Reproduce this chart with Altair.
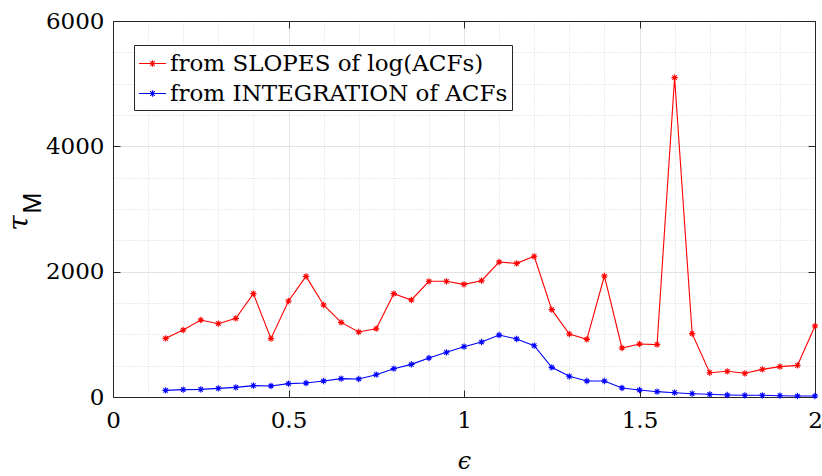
import altair as alt
import pandas as pd

# ---------------- data ----------------
eps = [0.15, 0.20, 0.25, 0.30, 0.35, 0.40, 0.45, 0.50, 0.55, 0.60,
       0.65, 0.70, 0.75, 0.80, 0.85, 0.90, 0.95, 1.00, 1.05, 1.10,
       1.15, 1.20, 1.25, 1.30, 1.35, 1.40, 1.45, 1.50, 1.55, 1.60,
       1.65, 1.70, 1.75, 1.80, 1.85, 1.90, 1.95, 2.00]
tau_slopes = [936, 1069, 1229, 1170, 1255, 1649, 931, 1532, 1925, 1468,
              1191, 1037, 1090, 1649, 1548, 1846, 1846, 1798, 1856, 2154,
              2133, 2245, 1394, 1005, 920, 1931, 782, 846, 835, 5096,
              1011, 388, 410, 378, 441, 484, 505, 1133]
tau_integration = [106, 117, 122, 138, 154, 181, 176, 213, 223, 255,
                   293, 287, 356, 452, 521, 622, 713, 803, 878, 989,
                   926, 819, 473, 330, 255, 255, 144, 112, 85, 69,
                   53, 43, 32, 27, 27, 21, 16, 16]
series_names = ["from SLOPES of log(ACFs)", "from INTEGRATION of ACFs"]
series_colors = ["#ff0000", "#0000ff"]
x_ticks = [0, 0.5, 1, 1.5, 2]
y_ticks = [0, 2000, 4000, 6000]
x_minor = [0.1, 0.2, 0.3, 0.4, 0.6, 0.7, 0.8, 0.9, 1.1, 1.2, 1.3, 1.4,
           1.6, 1.7, 1.8, 1.9]
y_minor = [500, 1000, 1500, 2500, 3000, 3500, 4500, 5000, 5500]
x_title = "ϵ"
y_title_main = "τ"
y_title_sub = "M"

n = len(eps)
df = pd.DataFrame({
    "eps": eps + eps,
    "tau": tau_slopes + tau_integration,
    "series": [series_names[0]] * n + [series_names[1]] * n,
})

# ---------------- layout ----------------
W, H = 702, 376
AX = "#262626"
FONT = "DejaVu Serif"
STAR = "M-1,0L1,0M0,-1L0,1M-0.7,-0.7L0.7,0.7M-0.7,0.7L0.7,-0.7"
LEG_SYM = ("M-1,0L1,0M-0.24,0L0.24,0M0,-0.24L0,0.24"
           "M-0.17,-0.17L0.17,0.17M-0.17,0.17L0.17,-0.17")

xs = alt.Scale(domain=[0, 2], nice=False, zero=False)
ys = alt.Scale(domain=[0, 6000], nice=False)
cs = alt.Scale(domain=series_names, range=series_colors)

legend = alt.Legend(
    title=None, orient="none", legendX=21, legendY=24,
    symbolType=LEG_SYM, symbolSize=729, symbolStrokeWidth=1.1,
    labelFont=FONT, labelFontSize=23, labelColor="black",
    labelLimit=600, labelOffset=3, padding=4, rowPadding=3,
    strokeColor=AX, fillColor="white")

base = alt.Chart(df)

# main axes with labels and major grid
x_main = alt.Axis(values=x_ticks, orient="bottom", format="~g", grid=True,
                  gridColor="#e3e3e3", gridWidth=1, ticks=False, tickSize=0,
                  domain=True, domainColor=AX, domainWidth=1, labelFont=FONT,
                  labelFontSize=23, labelColor="black", labelPadding=12,
                  labelFlush=False, labelOverlap=False, title=x_title,
                  titleFont=FONT, titleFontSize=24, titleFontStyle="italic",
                  titleFontWeight="normal", titleColor="black", titlePadding=17)
y_main = alt.Axis(values=y_ticks, orient="left", format="d", grid=True,
                  gridColor="#e3e3e3", gridWidth=1, ticks=False, tickSize=0,
                  domain=True, domainColor=AX, domainWidth=1, labelFont=FONT,
                  labelFontSize=23, labelColor="black", labelPadding=9,
                  labelFlush=False, labelOverlap=False, title=None)

lines = base.mark_line(strokeWidth=1.1).encode(
    x=alt.X("eps:Q", scale=xs, axis=x_main),
    y=alt.Y("tau:Q", scale=ys, axis=y_main),
    color=alt.Color("series:N", scale=cs, legend=legend),
    order="eps:Q",
)

# minor grid (dotted)
x_minor_ax = alt.Axis(values=x_minor, orient="bottom", grid=True,
                      gridColor="#d6d6d6", gridDash=[1, 2], labels=False,
                      ticks=False, domain=False, title=None)
y_minor_ax = alt.Axis(values=y_minor, orient="left", grid=True,
                      gridColor="#d6d6d6", gridDash=[1, 2], labels=False,
                      ticks=False, domain=False, title=None)
points = base.mark_point(shape=STAR, filled=False, size=40, strokeWidth=1.1,
                         opacity=1).encode(
    x=alt.X("eps:Q", scale=xs, axis=x_minor_ax),
    y=alt.Y("tau:Q", scale=ys, axis=y_minor_ax),
    color=alt.Color("series:N", scale=cs, legend=legend),
)

# inward ticks at bottom / left
x_in_b = alt.Axis(values=x_ticks, orient="top", offset=-H, grid=False,
                  labels=False, domain=False, ticks=True, tickSize=7,
                  tickColor=AX, tickWidth=1, title=None)
y_in_l = alt.Axis(values=y_ticks, orient="right", offset=-W, grid=False,
                  labels=False, domain=False, ticks=True, tickSize=7,
                  tickColor=AX, tickWidth=1, title=None)
ghost1 = base.mark_point(opacity=0).encode(
    x=alt.X("eps:Q", scale=xs, axis=x_in_b),
    y=alt.Y("tau:Q", scale=ys, axis=y_in_l),
)

# box top / right with inward ticks
x_top = alt.Axis(values=x_ticks, orient="bottom", offset=-H, grid=False,
                 labels=False, domain=True, domainColor=AX, domainWidth=1,
                 ticks=True, tickSize=7, tickColor=AX, tickWidth=1, title=None)
y_right = alt.Axis(values=y_ticks, orient="left", offset=-W, grid=False,
                   labels=False, domain=True, domainColor=AX, domainWidth=1,
                   ticks=True, tickSize=7, tickColor=AX, tickWidth=1, title=None)
ghost2 = base.mark_point(opacity=0).encode(
    x=alt.X("eps:Q", scale=xs, axis=x_top),
    y=alt.Y("tau:Q", scale=ys, axis=y_right),
)

# y axis title: tau with subscript M
tau_txt = alt.Chart(pd.DataFrame({"t": [y_title_main]})).mark_text(
    font=FONT, fontSize=28, fontStyle="italic", angle=270, align="center",
    baseline="middle", color="black").encode(
    text="t:N", x=alt.value(-93), y=alt.value(202))
sub_txt = alt.Chart(pd.DataFrame({"t": [y_title_sub]})).mark_text(
    font="Liberation Sans", fontSize=25, angle=270, align="center",
    baseline="middle", color="black").encode(
    text="t:N", x=alt.value(-80), y=alt.value(182))

chart = alt.layer(points, lines, ghost1, ghost2, tau_txt, sub_txt).resolve_axis(
    x="independent", y="independent"
).properties(
    width=W, height=H,
    autosize=alt.AutoSizeParams(type="none"),
    padding={"left": 113, "top": 21, "right": 7, "bottom": 79},
    background="white",
).configure_view(stroke=None)

chart.save("out.html", embed_options={"renderer": "svg", "actions": False})
